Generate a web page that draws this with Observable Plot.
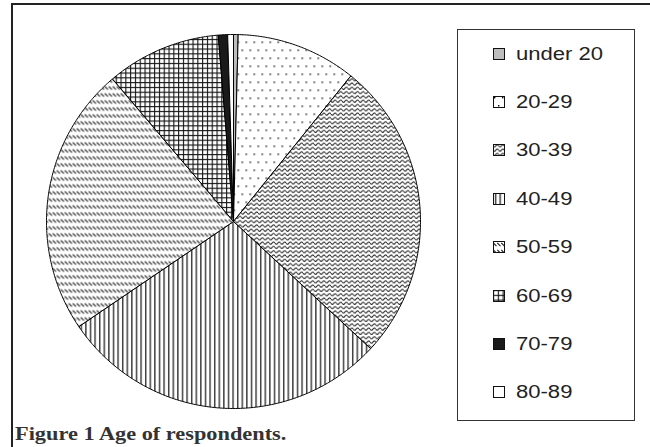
<!DOCTYPE html>
<html>
<head>
<meta charset="utf-8">
<script src="https://cdn.jsdelivr.net/npm/d3@7"></script>
<script src="https://cdn.jsdelivr.net/npm/@observablehq/plot@0.6"></script>
<style>
  html, body { margin: 0; padding: 0; background: #fff; }
  #page { position: relative; width: 650px; height: 447px; overflow: hidden; background: #fff; }
  #chart { position: absolute; left: 0; top: 0; }
  #frame { position: absolute; left: 11px; top: 3px; width: 700px; height: 500px;
           border-top: 2px solid #222; border-left: 2px solid #222; pointer-events: none; }
  #legend { position: absolute; left: 457px; top: 29px; width: 176px; height: 390px;
            border: 1.5px solid #333; background: #fff; }
  .item { position: absolute; left: 35px; height: 20px; display: flex; align-items: center; }
  .item svg { display: block; }
  .item span { display: inline-block; margin-left: 10px; font-family: "Liberation Sans", Arial, sans-serif;
               font-size: 17.5px; color: #222; transform: scaleX(1.26); transform-origin: left center; white-space: nowrap; }
  #caption { position: absolute; left: 15px; top: 424px; font-family: "Liberation Serif", "Times New Roman", serif;
             font-weight: bold; font-size: 18px; color: #333; transform: scaleX(1.24); transform-origin: left center;
             white-space: nowrap; line-height: 20px; }
</style>
</head>
<body>
<svg width="0" height="0" style="position:absolute">
  <defs>
    <pattern id="pat-dots" patternUnits="userSpaceOnUse" width="8" height="16">
      <rect width="8" height="16" fill="#fff"/>
      <rect x="1" y="1" width="1.4" height="1.4" fill="#000"/>
      <rect x="5" y="9" width="1.4" height="1.4" fill="#000"/>
    </pattern>
    <pattern id="pat-wave" patternUnits="userSpaceOnUse" width="5.6" height="4.3">
      <rect width="5.6" height="4.3" fill="#fff"/>
      <path d="M0,1.8 Q1.4,4 2.8,1.8 Q4.2,-0.4 5.6,1.8" stroke="#222" stroke-width="1" fill="none"/>
    </pattern>
    <pattern id="pat-vert" patternUnits="userSpaceOnUse" width="4.6" height="5">
      <rect width="4.6" height="5" fill="#fff"/>
      <rect x="2" y="0" width="1.2" height="5" fill="#111"/>
    </pattern>
    <pattern id="pat-diag" patternUnits="userSpaceOnUse" width="4" height="7">
      <rect width="4" height="7" fill="#fff"/>
      <line x1="0.3" y1="2" x2="3.5" y2="5.2" stroke="#222" stroke-width="1.1"/>
    </pattern>
    <pattern id="pat-grid" patternUnits="userSpaceOnUse" width="4.8" height="4.8">
      <rect width="4.8" height="4.8" fill="#fff"/>
      <rect x="0" y="0" width="4.8" height="1.1" fill="#111"/>
      <rect x="0" y="0" width="1.1" height="4.8" fill="#111"/>
    </pattern>
  </defs>
</svg>
<div id="page">
  <div id="chart"></div>
  <div id="frame"></div>
  <div id="legend"></div>
  <div id="caption">Figure 1 Age of respondents.</div>
</div>
<script>
// ---- data ----
const categories = ["under 20", "20-29", "30-39", "40-49", "50-59", "60-69", "70-79", "80-89"];
const percents   = [0.4, 10.4, 26.1, 28.6, 23.3, 9.9, 0.8, 0.5];

// ---- styles (fills per category) ----
const fills = ["#bdbdbd", "url(#pat-dots)", "url(#pat-wave)", "url(#pat-vert)",
               "url(#pat-diag)", "url(#pat-grid)", "#1a1a1a", "#ffffff"];

// ---- slice outlines derived from pie angles ----
const arcs = d3.pie().sort(null).value(d => d)(percents);
const pts = [];
arcs.forEach((s, i) => {
  const cat = categories[i];
  pts.push({cat, x: 0, y: 0});
  const n = Math.max(2, Math.ceil((s.endAngle - s.startAngle) / (Math.PI / 360)));
  for (let k = 0; k <= n; k++) {
    const a = s.startAngle + (s.endAngle - s.startAngle) * k / n;
    pts.push({cat, x: Math.sin(a), y: Math.cos(a)});
  }
  pts.push({cat, x: 0, y: 0});
});

const chart = Plot.plot({
  width: 650,
  height: 425,
  marginLeft: 46,
  marginRight: 230,
  marginTop: 34,
  marginBottom: 17,
  style: {background: "transparent", overflow: "visible"},
  x: {domain: [-1, 1], axis: null},
  y: {domain: [-1, 1], axis: null},
  color: {type: "ordinal", domain: categories, range: fills},
  marks: [
    Plot.line(pts, {x: "x", y: "y", z: "cat", fill: "cat", stroke: "#000",
                    strokeWidth: 1, strokeLinejoin: "miter", strokeLinecap: "butt"})
  ]
});
document.getElementById("chart").appendChild(chart);

// ---- legend ----
const legend = document.getElementById("legend");
categories.forEach((c, i) => {
  const item = document.createElement("div");
  item.className = "item";
  item.style.top = (14 + i * 48.4) + "px";
  item.innerHTML = `<svg width="13" height="13"><rect x="0.5" y="0.5" width="11" height="11" fill="${fills[i]}" stroke="#111" stroke-width="1"/></svg><span>${c}</span>`;
  legend.appendChild(item);
});
</script>
</body>
</html>
